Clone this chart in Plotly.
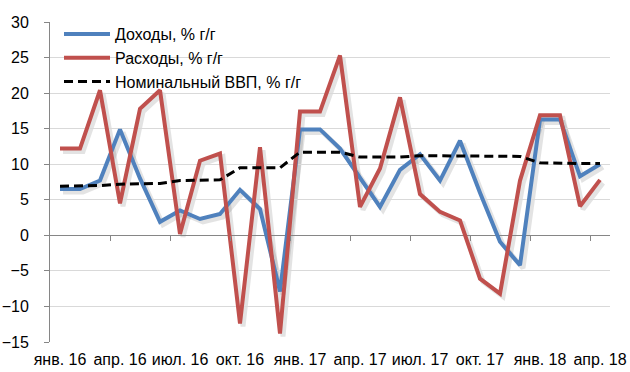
import plotly.graph_objects as go

# Monthly categories, Jan 2016 .. Apr 2018
months = ["янв. 16", "фев. 16", "мар. 16", "апр. 16", "май. 16", "июн. 16",
          "июл. 16", "авг. 16", "сен. 16", "окт. 16", "ноя. 16", "дек. 16",
          "янв. 17", "фев. 17", "мар. 17", "апр. 17", "май. 17", "июн. 17",
          "июл. 17", "авг. 17", "сен. 17", "окт. 17", "ноя. 17", "дек. 17",
          "янв. 18", "фев. 18", "мар. 18", "апр. 18"]

revenues = [6.5, 6.5, 7.7, 14.9, 8.0, 1.9, 3.5, 2.3, 3.0, 6.4, 3.7, -7.9,
            14.9, 14.9, 12.2, 8.2, 4.0, 9.2, 11.4, 7.7, 13.3, 6.0, -0.9, -4.2,
            16.3, 16.3, 8.3, 10.0]

expenses = [12.2, 12.2, 20.4, 4.5, 17.8, 20.4, 0.2, 10.5, 11.5, -12.4, 12.4, -13.8,
            17.4, 17.4, 25.3, 4.0, 9.4, 19.4, 5.8, 3.3, 2.1, -6.1, -8.2, 7.7,
            16.9, 16.9, 4.1, 7.8]

nominal_gdp = [6.9, 6.9, 7.0, 7.2, 7.2, 7.3, 7.7, 7.7, 7.8, 9.5, 9.5, 9.5,
               11.7, 11.7, 11.7, 11.0, 11.0, 11.0, 11.2, 11.2, 11.2, 11.1, 11.1, 11.1,
               10.2, 10.1, 10.1, 10.1]

series_names = ["Доходы, % г/г", "Расходы, % г/г", "Номинальный ВВП, % г/г"]

y_ticks = [-15, -10, -5, 0, 5, 10, 15, 20, 25, 30]
label_step = 3

BLUE = "#4F81BD"
RED = "#C0504D"
AXIS_GREY = "#868686"
GRID_GREY = "#D9D9D9"
FONT = "Liberation Sans, Arial, sans-serif"

W, H = 630, 372
L, R, T, B = 50, 17, 22, 27
PW, PH = W - L - R, H - T - B
SH = 3  # shadow offset, px

x = list(range(len(months)))
ymin, ymax = y_ticks[0], y_ticks[-1]

main_xdom = [0, (PW - SH) / PW]
main_ydom = [SH / PH, 1]
shadow_xdom = [SH / PW, 1]
shadow_ydom = [0, (PH - SH) / PH]
zero_pos = main_ydom[0] + (0 - ymin) / (ymax - ymin) * (main_ydom[1] - main_ydom[0])

xr = [-0.5, len(months) - 0.5]
boundaries = [i - 0.5 for i in range(label_step, len(months), label_step)]

fig = go.Figure()

# x2/y2: soft drop shadows under the two solid series
for vals in (revenues, expenses):
    fig.add_trace(go.Scatter(x=x, y=vals, xaxis="x2", yaxis="y2", mode="lines",
                             line=dict(color="rgba(0,0,0,0.11)", width=5),
                             hoverinfo="skip", showlegend=False))

# x3/y3: the series themselves
styles = [dict(color=BLUE, width=4), dict(color=RED, width=4),
          dict(color="black", width=3, dash="9px,5px")]
for name, vals, st in zip(series_names, [revenues, expenses, nominal_gdp], styles):
    fig.add_trace(go.Scatter(x=x, y=vals, name=name, xaxis="x3", yaxis="y3",
                             mode="lines", line=st))

# x4/y4: category axis crossing at zero, tick marks between quarter groups
fig.add_trace(go.Scatter(x=x, y=revenues, xaxis="x4", yaxis="y4", mode="none",
                         showlegend=False, hoverinfo="skip"))

fig.update_layout(
    width=W, height=H,
    margin=dict(l=L, r=R, t=T, b=B, autoexpand=False),
    paper_bgcolor="white", plot_bgcolor="rgba(0,0,0,0)",
    font=dict(family=FONT, size=16, color="black"),
    showlegend=True,
    legend=dict(x=(59 - L) / PW, y=1 - (17 - T) / PH, xanchor="left", yanchor="top",
                bgcolor="rgba(0,0,0,0)", font=dict(size=16), itemwidth=46,
                tracegroupgap=0),
    xaxis2=dict(domain=shadow_xdom, range=xr, visible=False, anchor="y2",
                automargin=False),
    yaxis2=dict(domain=shadow_ydom, range=[ymin, ymax], visible=False, anchor="x2",
                automargin=False),
    xaxis3=dict(domain=main_xdom, range=xr, anchor="y3", automargin=False,
                tickmode="array", tickvals=x[::label_step], ticktext=months[::label_step],
                ticks="", showgrid=False, zeroline=False, showline=False,
                tickfont=dict(size=16), ticklabelstandoff=6),
    yaxis3=dict(domain=main_ydom, range=[ymin, ymax], anchor="x3", automargin=False,
                tickmode="array", tickvals=y_ticks,
                showgrid=True, gridcolor=GRID_GREY, gridwidth=1,
                zeroline=True, zerolinecolor=AXIS_GREY, zerolinewidth=1,
                showline=True, linecolor=AXIS_GREY, linewidth=1,
                ticks="outside", ticklen=5, tickcolor=AXIS_GREY,
                tickfont=dict(size=16), ticklabelstandoff=12),
    xaxis4=dict(domain=main_xdom, range=xr, anchor="y4", automargin=False,
                tickmode="array", tickvals=boundaries, showticklabels=False,
                ticks="outside", ticklen=5, tickwidth=1, tickcolor=AXIS_GREY,
                showline=False, showgrid=False, zeroline=False),
    yaxis4=dict(domain=[zero_pos, main_ydom[1]], range=[0, ymax], anchor="x4",
                automargin=False, showticklabels=False, showgrid=False,
                zeroline=False, showline=False, ticks=""),
)

fig.write_html("out.html")
